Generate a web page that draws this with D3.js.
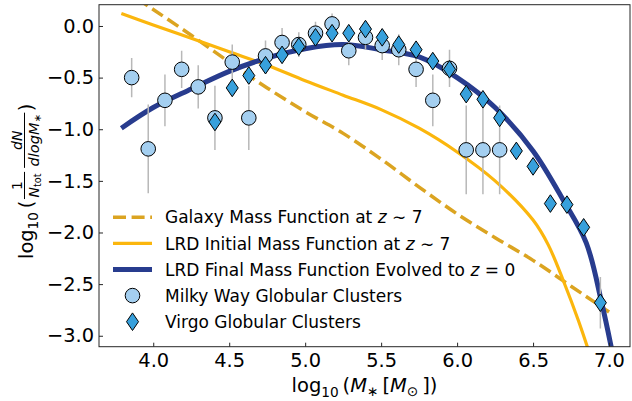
<!DOCTYPE html>
<html>
<head>
<meta charset="utf-8">
<script src="https://cdn.jsdelivr.net/npm/d3@7"></script>
<style>
  body { margin: 0; background: #fff; }
  svg { display: block; font-family: "DejaVu Sans", sans-serif; }
</style>
</head>
<body>
<svg id="chart" width="632" height="401"></svg>
<script>
// Milky Way globular clusters (circles)
const mwMass = [3.858, 3.967, 4.077, 4.187, 4.296, 4.406, 4.520, 4.629, 4.739, 4.848, 4.958, 5.068,
  5.177, 5.287, 5.397, 5.507, 5.616, 5.730, 5.840, 5.950, 6.060, 6.170, 6.280];
const mwVal = [-0.50, -1.19, -0.72, -0.42, -0.59, -0.89, -0.35, -0.89, -0.29, -0.16, -0.18, -0.07,
  0.02, -0.24, -0.11, -0.19, -0.23, -0.42, -0.72, -0.41, -1.20, -1.20, -1.20];
const mwErr = [0.19, 0.43, 0.25, 0.18, 0.21, 0.31, 0.17, 0.31, 0.15, 0.14, 0.12, 0.11,
  0.10, 0.14, 0.12, 0.14, 0.15, 0.17, 0.25, 0.18, 0.43, 0.43, 0.43];

// Virgo globular clusters (diamonds)
const virgoMass = [4.406, 4.520, 4.629, 4.739, 4.848, 4.958, 5.068, 5.177, 5.287, 5.397, 5.507, 5.616,
  5.730, 5.840, 5.950, 6.060, 6.170, 6.280, 6.390, 6.500, 6.614, 6.723, 6.833, 6.943];
const virgoVal = [-0.93, -0.60, -0.48, -0.38, -0.28, -0.20, -0.11, -0.07, -0.07, -0.03, -0.11, -0.18,
  -0.23, -0.34, -0.42, -0.66, -0.71, -0.89, -1.21, -1.36, -1.72, -1.73, -1.95, -2.68];
const virgoErr = [0.02, 0.02, 0.02, 0.02, 0.02, 0.02, 0.02, 0.02, 0.02, 0.02, 0.02, 0.02,
  0.02, 0.02, 0.02, 0.02, 0.02, 0.02, 0.03, 0.03, 0.05, 0.05, 0.06, 0.25];

// galaxy mass function at z~7 (dashed)
const galaxyMass = [3.79, 4.0, 4.25, 4.5, 4.75, 5.0, 5.25, 5.5, 5.75, 6.0, 6.25, 6.5, 6.75, 7.0];
const galaxyVal = [0.37, 0.16, -0.09, -0.35, -0.60, -0.83, -1.04, -1.29, -1.56, -1.82, -2.05, -2.27, -2.52, -2.77];

// LRD initial mass function at z~7
const initMass = [3.79, 4.0, 4.25, 4.5, 4.75, 5.0, 5.25, 5.5, 5.75, 6.0, 6.25, 6.5, 6.6, 6.7, 6.8, 6.9];
const initVal = [0.12, 0.01, -0.12, -0.25, -0.38, -0.53, -0.67, -0.81, -0.99, -1.22, -1.50, -1.88, -2.12, -2.47, -2.86, -3.30];

// LRD final mass function evolved to z=0
const finalMass = [3.79, 4.0, 4.25, 4.5, 4.75, 5.0, 5.25, 5.5, 5.75, 6.0, 6.25, 6.5, 6.7, 6.85, 6.95, 7.02];
const finalVal = [-0.99, -0.79, -0.61, -0.44, -0.31, -0.22, -0.18, -0.23, -0.30, -0.50, -0.79, -1.21, -1.69, -2.10, -2.67, -3.15];

const xTicks = [4.0, 4.5, 5.0, 5.5, 6.0, 6.5, 7.0];
const yTicks = [0.0, -0.5, -1.0, -1.5, -2.0, -2.5, -3.0];

const legendLabels = [
  ["Galaxy Mass Function at ", "z", " \u223C 7"],
  ["LRD Initial Mass Function at ", "z", " \u223C 7"],
  ["LRD Final Mass Function Evolved to ", "z", " = 0"],
  ["Milky Way Globular Clusters"],
  ["Virgo Globular Clusters"]
];

const colDash = "#dba421", colInit = "#fbb60d", colFinal = "#283c8e";
const colCircle = "#a4cff0", colDiamond = "#37a0dc", colErr = "#b8b8b8";

const svg = d3.select("#chart");
const pL = 99, pR = 630, pT = 4.7, pB = 346.7;

const x = d3.scaleLinear().domain([3.643, 7.138]).range([pL, pR]);
const y = d3.scaleLinear().domain([-3.106, 0.206]).range([pB, pT]);

svg.append("clipPath").attr("id", "clip")
  .append("rect").attr("x", pL).attr("y", pT).attr("width", pR - pL).attr("height", pB - pT);

const plot = svg.append("g").attr("clip-path", "url(#clip)");

const line = d3.line().x(d => x(d[0])).y(d => y(d[1])).curve(d3.curveCatmullRom.alpha(0.5));

plot.append("path").datum(d3.zip(galaxyMass, galaxyVal))
  .attr("d", line).attr("fill", "none").attr("stroke", colDash)
  .attr("stroke-width", 3.5).attr("stroke-dasharray", "13,5.6");
plot.append("path").datum(d3.zip(initMass, initVal))
  .attr("d", line).attr("fill", "none").attr("stroke", colInit).attr("stroke-width", 3.2);
plot.append("path").datum(d3.zip(finalMass, finalVal))
  .attr("d", line).attr("fill", "none").attr("stroke", colFinal).attr("stroke-width", 5);

// error bars
const mw = mwMass.map((m, i) => ({ m, v: mwVal[i], e: mwErr[i] }));
const vg = virgoMass.map((m, i) => ({ m, v: virgoVal[i], e: virgoErr[i] }));

plot.append("g").selectAll("line").data(mw).enter().append("line")
  .attr("x1", d => x(d.m)).attr("x2", d => x(d.m))
  .attr("y1", d => y(d.v + d.e)).attr("y2", d => y(d.v - d.e))
  .attr("stroke", colErr).attr("stroke-width", 1.5);
plot.append("g").selectAll("line").data(vg).enter().append("line")
  .attr("x1", d => x(d.m)).attr("x2", d => x(d.m))
  .attr("y1", d => y(d.v + d.e)).attr("y2", d => y(d.v - d.e))
  .attr("stroke", colErr).attr("stroke-width", 1.5);

const diamond = "M0,-8.8L6,0L0,8.8L-6,0Z";

plot.append("g").selectAll("circle").data(mw).enter().append("circle")
  .attr("cx", d => x(d.m)).attr("cy", d => y(d.v)).attr("r", 7.3)
  .attr("fill", colCircle).attr("stroke", "#000").attr("stroke-width", 1);
plot.append("g").selectAll("path").data(vg).enter().append("path")
  .attr("d", diamond).attr("transform", d => `translate(${x(d.m)},${y(d.v)})`)
  .attr("fill", colDiamond).attr("stroke", "#000").attr("stroke-width", 1);

// axes
const fmt = d3.format(".1f");
const xAxis = svg.append("g").attr("transform", `translate(0,${pB})`)
  .call(d3.axisBottom(x).tickValues(xTicks).tickFormat(fmt).tickSizeInner(-4).tickSizeOuter(0).tickPadding(7));
const yAxis = svg.append("g").attr("transform", `translate(${pL},0)`)
  .call(d3.axisLeft(y).tickValues(yTicks).tickFormat(fmt).tickSizeInner(-4).tickSizeOuter(0).tickPadding(5));
[xAxis, yAxis].forEach(a => {
  a.select(".domain").remove();
  a.selectAll("text").attr("font-size", 19.4).attr("font-family", "DejaVu Sans").attr("fill", "#000");
  a.selectAll("line").attr("stroke", "#262626");
});
svg.append("rect").attr("x", pL).attr("y", pT).attr("width", pR - pL).attr("height", pB - pT)
  .attr("fill", "none").attr("stroke", "#262626").attr("stroke-width", 1);

// rich text helper: parts = [text, size, italic, shift]
function rich(sel, parts) {
  let prev = 0;
  parts.forEach(p => {
    sel.append("tspan").attr("font-size", p[1]).attr("font-style", p[2] ? "italic" : "normal")
      .attr("dy", (p[3] || 0) - prev).text(p[0]);
    prev = p[3] || 0;
  });
  return sel;
}

// x label
rich(svg.append("text").attr("x", (pL + pR) / 2).attr("y", 392).attr("text-anchor", "middle"), [
  ["log", 19.5], ["10", 13.7, false, 4.5], ["\u2009(", 19.5], ["M", 19.5, true], ["\u2217", 13.7, false, 4],
  ["\u2009[", 19.5], ["M", 19.5, true], ["\u2299", 13.7, false, 4], ["\u2009])", 19.5]
]);

// y label, laid out horizontally then rotated
const yl = svg.append("g");
let cx = 0;
function piece(parts) {
  const t = rich(yl.append("text").attr("x", cx), parts);
  cx += t.node().getComputedTextLength();
}
function frac(num, den) {
  const n = rich(yl.append("text").attr("y", -11.5), num);
  const d = rich(yl.append("text").attr("y", 5.5), den);
  const wn = n.node().getComputedTextLength(), wd = d.node().getComputedTextLength();
  const w = Math.max(wn, wd) + 4;
  n.attr("x", cx + (w - wn) / 2);
  d.attr("x", cx + (w - wd) / 2);
  yl.append("line").attr("x1", cx + 0.5).attr("x2", cx + w - 0.5).attr("y1", -8.5).attr("y2", -8.5)
    .attr("stroke", "#000").attr("stroke-width", 1);
  cx += w;
}
piece([["log", 19.4], ["10", 13.6, false, 4.5]]);
cx += 4;
piece([["(", 19.4]]);
cx += 1;
frac([["1", 14]], [["N", 14, true], ["tot", 9.8, false, 2.5]]);
cx += 3;
frac([["dN", 14, true]], [["dlogM", 14.5, true], ["\u2217", 10, false, 2.5]]);
cx += 1;
piece([[")", 19.4]]);
yl.attr("transform", `translate(33,259) rotate(-90)`);

// legend
const rowY = d3.range(legendLabels.length).map(i => 217.3 + i * 26.1);
const leg = svg.append("g");
leg.append("line").attr("x1", 113).attr("x2", 152).attr("y1", rowY[0]).attr("y2", rowY[0])
  .attr("stroke", colDash).attr("stroke-width", 3.5).attr("stroke-dasharray", "13,5.6");
leg.append("line").attr("x1", 113).attr("x2", 152).attr("y1", rowY[1]).attr("y2", rowY[1])
  .attr("stroke", colInit).attr("stroke-width", 3.2);
leg.append("line").attr("x1", 113).attr("x2", 152).attr("y1", rowY[2]).attr("y2", rowY[2])
  .attr("stroke", colFinal).attr("stroke-width", 5);
leg.append("circle").attr("cx", 132.5).attr("cy", rowY[3]).attr("r", 7.3)
  .attr("fill", colCircle).attr("stroke", "#000");
leg.append("path").attr("d", diamond).attr("transform", `translate(132.5,${rowY[4]})`)
  .attr("fill", colDiamond).attr("stroke", "#000");
legendLabels.forEach((lab, i) => {
  const t = leg.append("text").attr("x", 165).attr("y", rowY[i]).attr("dy", "0.36em").attr("font-size", 17);
  lab.forEach((s, j) => t.append("tspan").attr("font-style", j === 1 ? "italic" : "normal").text(s));
});
</script>
</body>
</html>
